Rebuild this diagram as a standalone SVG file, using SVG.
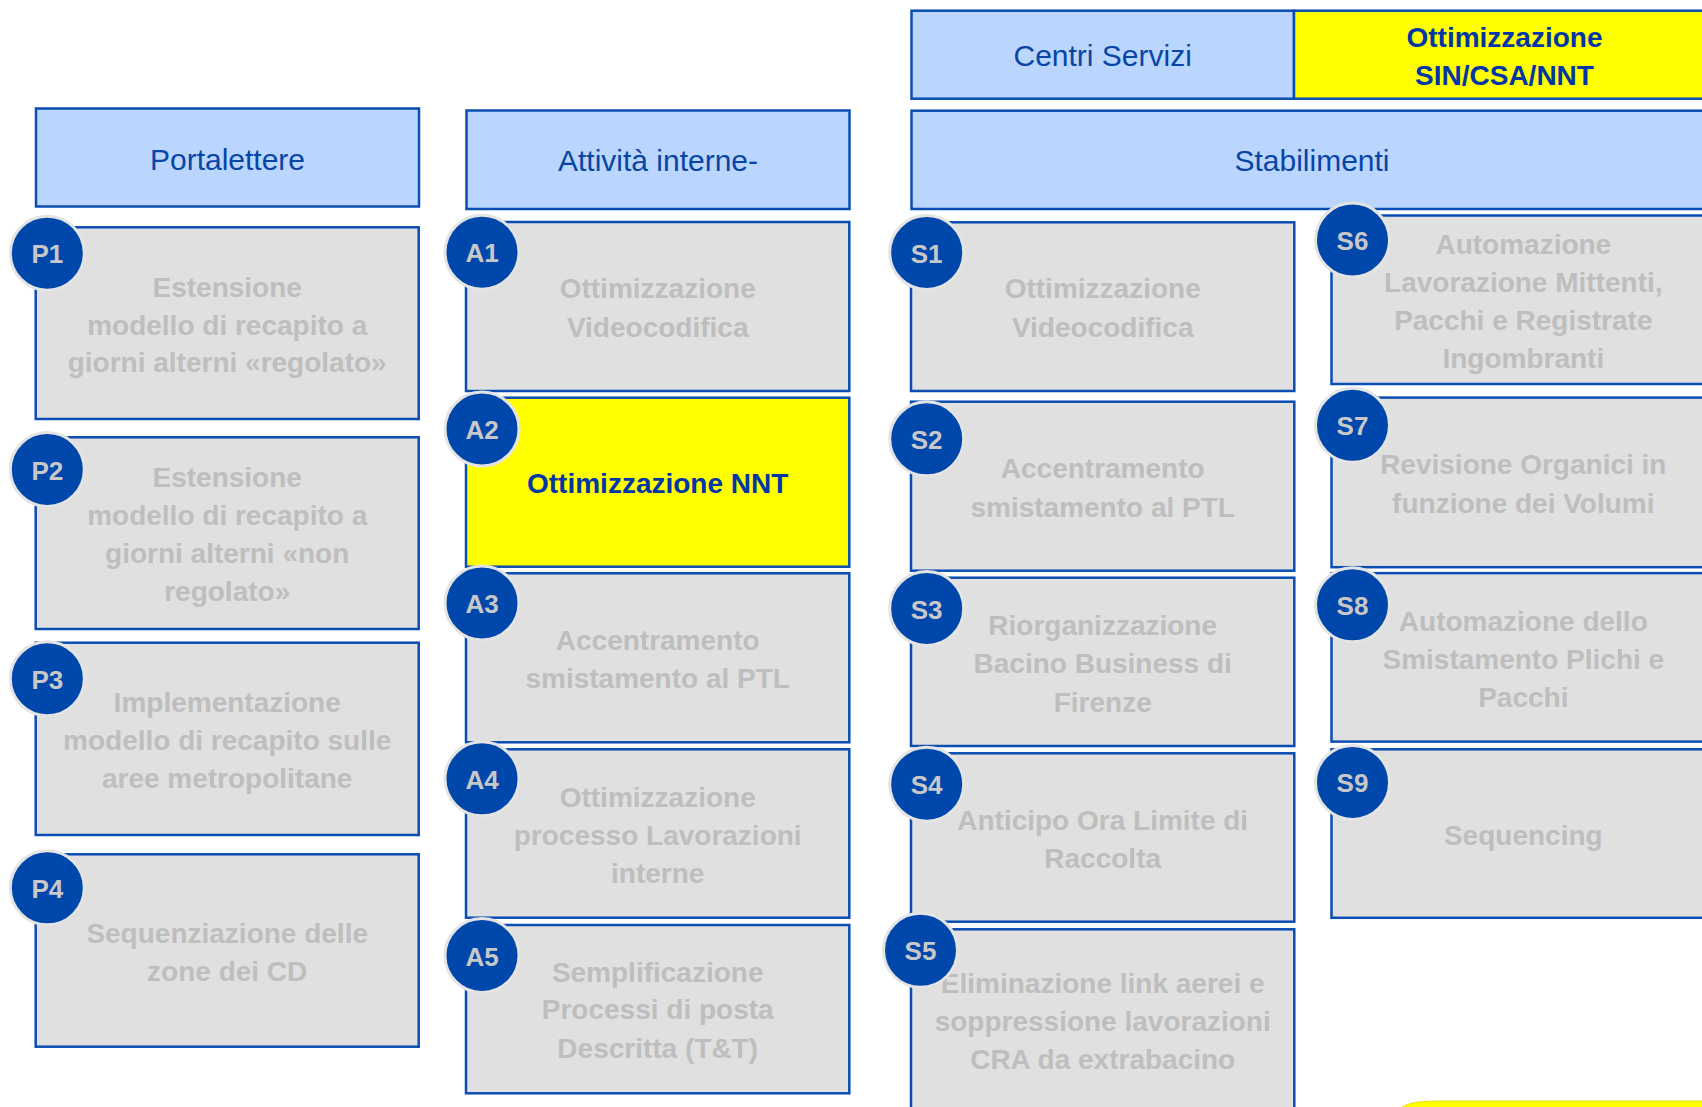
<svg xmlns="http://www.w3.org/2000/svg" width="1702" height="1107" viewBox="0 0 1702 1107">
<style>
.hdr{fill:#BAD6FF;stroke:#0A4DB3;stroke-width:2.5}
.box{fill:#E0E0E0;stroke:#0A4DB3;stroke-width:2.5}
.hl{fill:#FFFF00;stroke:#0A4DB3;stroke-width:2.5}
.badge{fill:#0047AB;stroke:#E4E4E4;stroke-width:3}
.ht{font-family:"Liberation Sans",Arial,sans-serif;font-size:30px;fill:#0845A5;text-anchor:middle}
.yt{font-family:"Liberation Sans",Arial,sans-serif;font-weight:bold;font-size:28px;fill:#0036A6;text-anchor:middle}
.gt{font-family:"Liberation Sans",Arial,sans-serif;font-weight:bold;font-size:28px;fill:#BEBEBE;text-anchor:middle}
.bt{font-family:"Liberation Sans",Arial,sans-serif;font-weight:bold;font-size:26px;fill:#C8C8C8;text-anchor:middle}
</style>
<rect width="1702" height="1107" fill="#FFFFFF"/>

<!-- Headers -->
<g id="hdr-centri-servizi"><rect class="hdr" x="911.5" y="10.7" width="382.5" height="88"/><text class="ht" x="1102.7" y="65.5">Centri Servizi</text></g>
<g id="hdr-ottimizzazione-sin"><rect class="hl" x="1294" y="10.7" width="420" height="88"/><text class="yt" x="1504.5" y="46.7">Ottimizzazione</text><text class="yt" x="1504.5" y="85">SIN/CSA/NNT</text></g>
<g id="hdr-portalettere"><rect class="hdr" x="36" y="108.5" width="383" height="98"/><text class="ht" x="227.5" y="169.5">Portalettere</text></g>
<g id="hdr-attivita"><rect class="hdr" x="466.5" y="110.5" width="383" height="98.5"/><text class="ht" x="658" y="171">Attività interne-</text></g>
<g id="hdr-stabilimenti"><rect class="hdr" x="911.5" y="110.7" width="803" height="98.3"/><text class="ht" x="1312" y="171">Stabilimenti</text></g>

<!-- P column -->
<g id="P1"><rect class="box" x="35.7" y="227.3" width="383" height="191.7"/><text class="gt" x="227.2"><tspan x="227.2" y="296.7">Estensione</tspan><tspan x="227.2" y="334.5">modello di recapito a</tspan><tspan x="227.2" y="372.3">giorni alterni «regolato»</tspan></text><circle class="badge" cx="47.3" cy="253.2" r="37"/><text class="bt" x="47.3" y="263.2">P1</text></g>
<g id="P2"><rect class="box" x="35.7" y="437.3" width="383" height="191.7"/><text class="gt" x="227.2"><tspan x="227.2" y="487.3">Estensione</tspan><tspan x="227.2" y="525">modello di recapito a</tspan><tspan x="227.2" y="563.3">giorni alterni «non</tspan><tspan x="227.2" y="600.7">regolato»</tspan></text><circle class="badge" cx="47.3" cy="469.5" r="37"/><text class="bt" x="47.3" y="479.5">P2</text></g>
<g id="P3"><rect class="box" x="35.7" y="642.7" width="383" height="192.3"/><text class="gt" x="227.2"><tspan x="227.2" y="711.7">Implementazione</tspan><tspan x="227.2" y="749.5">modello di recapito sulle</tspan><tspan x="227.2" y="787.7">aree metropolitane</tspan></text><circle class="badge" cx="47.3" cy="678.7" r="37"/><text class="bt" x="47.3" y="688.7">P3</text></g>
<g id="P4"><rect class="box" x="35.7" y="854.3" width="383" height="192.4"/><text class="gt" x="227.2"><tspan x="227.2" y="942.7">Sequenziazione delle</tspan><tspan x="227.2" y="980.7">zone dei CD</tspan></text><circle class="badge" cx="47.3" cy="887.8" r="37"/><text class="bt" x="47.3" y="897.8">P4</text></g>

<!-- A column -->
<g id="A1"><rect class="box" x="466" y="222" width="383.3" height="169"/><text class="gt" x="657.7"><tspan x="657.7" y="298.3">Ottimizzazione</tspan><tspan x="657.7" y="336.7">Videocodifica</tspan></text><circle class="badge" cx="482" cy="252.2" r="37"/><text class="bt" x="482" y="262.2">A1</text></g>
<g id="A2"><rect class="hl" x="466" y="397.7" width="383.3" height="169"/><text class="yt" x="657.7" y="493.3">Ottimizzazione NNT</text><circle class="badge" cx="482" cy="429" r="37"/><text class="bt" x="482" y="439">A2</text></g>
<g id="A3"><rect class="box" x="466" y="573.3" width="383.3" height="169"/><text class="gt" x="657.7"><tspan x="657.7" y="650">Accentramento</tspan><tspan x="657.7" y="688.3">smistamento al PTL</tspan></text><circle class="badge" cx="482" cy="603" r="37"/><text class="bt" x="482" y="613">A3</text></g>
<g id="A4"><rect class="box" x="466" y="749.3" width="383.3" height="168.4"/><text class="gt" x="657.7"><tspan x="657.7" y="806.7">Ottimizzazione</tspan><tspan x="657.7" y="845">processo Lavorazioni</tspan><tspan x="657.7" y="883.3">interne</tspan></text><circle class="badge" cx="482" cy="778.8" r="37"/><text class="bt" x="482" y="788.8">A4</text></g>
<g id="A5"><rect class="box" x="466" y="925" width="383.3" height="168.3"/><text class="gt" x="657.7"><tspan x="657.7" y="981.7">Semplificazione</tspan><tspan x="657.7" y="1019.3">Processi di posta</tspan><tspan x="657.7" y="1057.7">Descritta (T&amp;T)</tspan></text><circle class="badge" cx="482" cy="955.5" r="37"/><text class="bt" x="482" y="965.5">A5</text></g>

<!-- S column 1 -->
<g id="S1"><rect class="box" x="911" y="222.3" width="383.3" height="168.7"/><text class="gt" x="1102.7"><tspan x="1102.7" y="298.3">Ottimizzazione</tspan><tspan x="1102.7" y="336.7">Videocodifica</tspan></text><circle class="badge" cx="926.7" cy="252.5" r="37"/><text class="bt" x="926.7" y="262.5">S1</text></g>
<g id="S2"><rect class="box" x="911" y="401.7" width="383.3" height="169"/><text class="gt" x="1102.7"><tspan x="1102.7" y="477.7">Accentramento</tspan><tspan x="1102.7" y="516.7">smistamento al PTL</tspan></text><circle class="badge" cx="926.7" cy="438.8" r="37"/><text class="bt" x="926.7" y="448.8">S2</text></g>
<g id="S3"><rect class="box" x="911" y="577.7" width="383.3" height="168.3"/><text class="gt" x="1102.7"><tspan x="1102.7" y="635">Riorganizzazione</tspan><tspan x="1102.7" y="672.7">Bacino Business di</tspan><tspan x="1102.7" y="711.7">Firenze</tspan></text><circle class="badge" cx="926.7" cy="608.5" r="37"/><text class="bt" x="926.7" y="618.5">S3</text></g>
<g id="S4"><rect class="box" x="911" y="753.3" width="383.3" height="168.4"/><text class="gt" x="1102.7"><tspan x="1102.7" y="830">Anticipo Ora Limite di</tspan><tspan x="1102.7" y="868.3">Raccolta</tspan></text><circle class="badge" cx="926.7" cy="784.2" r="37"/><text class="bt" x="926.7" y="794.2">S4</text></g>
<g id="S5"><rect class="box" x="911" y="929.3" width="383.3" height="200"/><text class="gt" x="1102.7"><tspan x="1102.7" y="992.7">Eliminazione link aerei e</tspan><tspan x="1102.7" y="1030.7">soppressione lavorazioni</tspan><tspan x="1102.7" y="1069">CRA da extrabacino</tspan></text><circle class="badge" cx="920.5" cy="950.3" r="37"/><text class="bt" x="920.5" y="960.3">S5</text></g>

<!-- S column 2 -->
<g id="S6"><rect class="box" x="1331.5" y="215.5" width="383" height="168.5"/><text class="gt" x="1523.3"><tspan x="1523.3" y="253.7">Automazione</tspan><tspan x="1523.3" y="291.8">Lavorazione Mittenti,</tspan><tspan x="1523.3" y="330.2">Pacchi e Registrate</tspan><tspan x="1523.3" y="368.4">Ingombranti</tspan></text><circle class="badge" cx="1352.5" cy="240" r="37"/><text class="bt" x="1352.5" y="250">S6</text></g>
<g id="S7"><rect class="box" x="1331.5" y="397.6" width="383" height="169.6"/><text class="gt" x="1523.3"><tspan x="1523.3" y="473.6">Revisione Organici in</tspan><tspan x="1523.3" y="512.6">funzione dei Volumi</tspan></text><circle class="badge" cx="1352.5" cy="425.3" r="37"/><text class="bt" x="1352.5" y="435.3">S7</text></g>
<g id="S8"><rect class="box" x="1331.5" y="573.1" width="383" height="168.5"/><text class="gt" x="1523.3"><tspan x="1523.3" y="630.9">Automazione dello</tspan><tspan x="1523.3" y="668.7">Smistamento Plichi e</tspan><tspan x="1523.3" y="707.1">Pacchi</tspan></text><circle class="badge" cx="1352.5" cy="604.8" r="37"/><text class="bt" x="1352.5" y="614.8">S8</text></g>
<g id="S9"><rect class="box" x="1331.5" y="749.3" width="383" height="168.5"/><text class="gt" x="1523.3" y="845">Sequencing</text><circle class="badge" cx="1352.5" cy="782.4" r="37"/><text class="bt" x="1352.5" y="792.4">S9</text></g>

<!-- partial yellow shape at bottom-right edge -->
<g id="corner-shape"><path d="M1400,1110 Q1404,1101 1440,1101 L1710,1101 L1710,1110 Z" fill="#FFFF00" stroke="#E6E000" stroke-width="1"/></g>

<g id="connectors"></g>
</svg>
